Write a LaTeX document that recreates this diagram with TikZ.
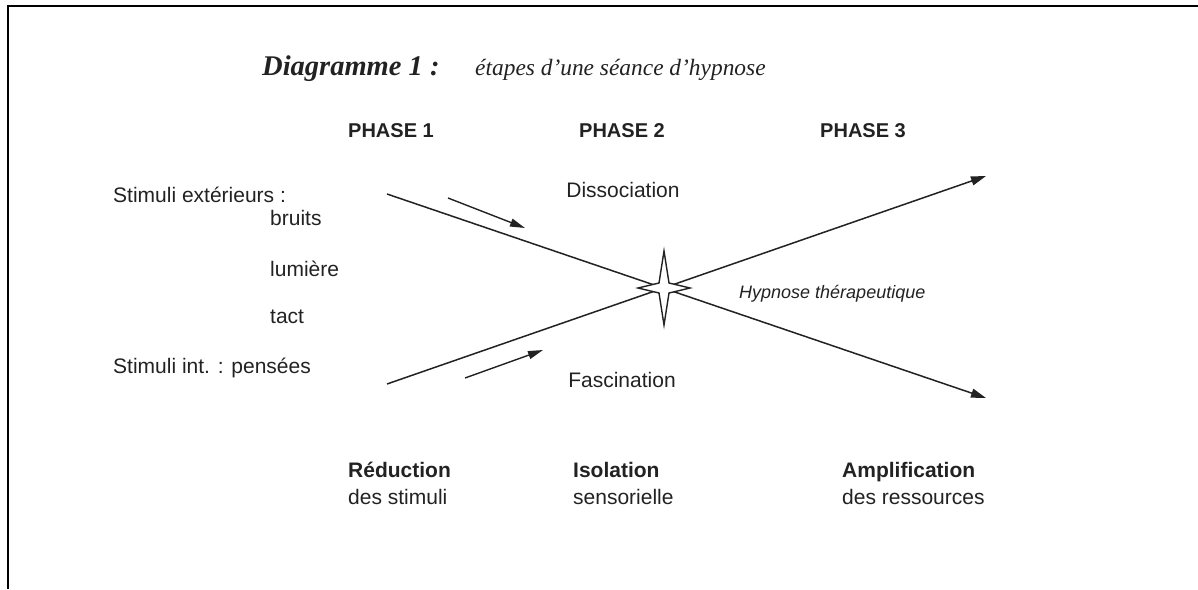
\documentclass[tikz,border=0pt]{standalone}
\usepackage{fontspec}
\setmainfont{Liberation Serif}
\setsansfont{Liberation Sans}
\usetikzlibrary{arrows.meta,calc}
\definecolor{ink}{HTML}{222222}
\tikzset{
  lbl/.style={inner sep=0pt, anchor=base west, text=ink, font=\sffamily\fontsize{21}{25}\selectfont},
  lblc/.style={lbl, anchor=base},
  phase/.style={lblc, font=\sffamily\bfseries\fontsize{20}{24}\selectfont},
  bold/.style={lbl, font=\sffamily\bfseries\fontsize{21}{25}\selectfont},
  ray/.style={draw=ink, line width=1.5pt, -{Triangle[length=15pt,width=9pt]}},
  small/.style={draw=ink, line width=1.4pt, -{Triangle[length=15pt,width=8pt]}},
  frame/.style={draw=black, line width=2.2pt}
}
\begin{document}
\begin{tikzpicture}[x=1pt,y=-1pt]
\useasboundingbox (0,0) rectangle (1198,589);
% frame
\coordinate (f1) at (8,589);
\coordinate (f2) at (8,6);
\coordinate (f3) at (1198,6);
\draw[frame] (f1) -- (f2) -- (f3);
% title
\node[inner sep=0pt, anchor=base west, text=ink, font=\rmfamily\bfseries\itshape\fontsize{28.5}{33}\selectfont] (t1) at (262,75) {Diagramme 1 :};
\node[inner sep=0pt, anchor=base west, text=ink, font=\rmfamily\itshape\fontsize{23.4}{28}\selectfont] (t2) at (475,75) {étapes d’une séance d’hypnose};
% phases
\node[phase] (p1) at (391,137) {PHASE 1};
\node[phase] (p2) at (622,137) {PHASE 2};
\node[phase] (p3) at (863,137) {PHASE 3};
% left labels
\node[lbl] (se) at (113,202) {Stimuli extérieurs :};
\node[lbl] (br) at (270,225) {bruits};
\node[lbl] (lu) at (270,276) {lumière};
\node[lbl] (ta) at (270,323) {tact};
\node[lbl] (si) at (113,373) {Stimuli int. : pensées};
% middle labels
\node[lblc] (di) at (623,197) {Dissociation};
\node[lblc] (fa) at (622,387) {Fascination};
\node[lbl, font=\sffamily\itshape\fontsize{18}{22}\selectfont] (hy) at (739,298) {Hypnose thérapeutique};
% bottom labels
\node[bold] (r1) at (348,477) {Réduction};
\node[lbl] (r2) at (348,504) {des stimuli};
\node[bold] (i1) at (573,477) {Isolation};
\node[lbl] (i2) at (573,504) {sensorielle};
\node[bold] (a1) at (842,477) {Amplification};
\node[lbl] (a2) at (842,504) {des ressources};
% main rays
\coordinate (s1) at (387,194);
\coordinate (e1) at (986,398);
\coordinate (s2) at (387,384);
\coordinate (e2) at (986,176);
\draw[ray] (s1) -- (e1);
\draw[ray] (s2) -- (e2);
% small direction arrows
\coordinate (u1) at (448,198);
\coordinate (u2) at (525,228);
\coordinate (l1) at (465,378);
\coordinate (l2) at (543,350);
\draw[small] (u1) -- (u2);
\draw[small] (l1) -- (l2);
% star at crossing
\coordinate (c) at (664,288);
\draw[ink, line width=1.4pt, fill=white, line join=miter]
  ($(c)+(0,-37)$) -- ++(5,32) -- ++(21,5) -- ++(-21,5) -- ++(-5,32)
  -- ++(-5,-32) -- ++(-21,-5) -- ++(21,-5) -- cycle;
\end{tikzpicture}
\end{document}
